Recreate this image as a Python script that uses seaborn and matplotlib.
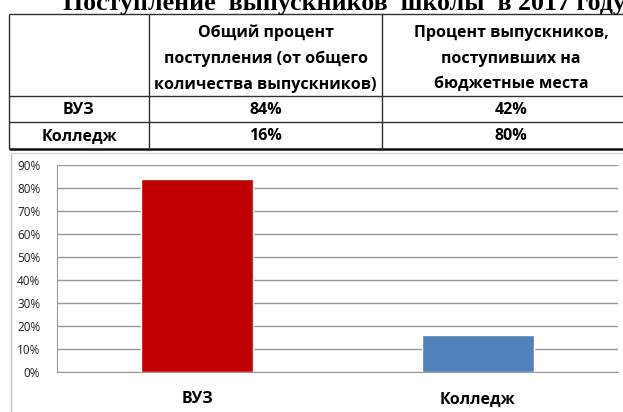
import matplotlib
matplotlib.use('Agg')
import matplotlib.pyplot as plt
import seaborn as sns
import pandas as pd
from matplotlib.ticker import PercentFormatter

# --- данные ---
title = 'Поступление  выпускников  школы  в 2017 году'
categories = ['ВУЗ', 'Колледж']
total_share = [0.84, 0.16]        # общий процент поступления
budget_share = [0.42, 0.80]       # процент поступивших на бюджет
col_headers = ['Общий процент\nпоступления (от общего\nколичества выпускников)',
               'Процент выпускников,\nпоступивших на\nбюджетные места']
y_ticks = [0, 0.1, 0.2, 0.3, 0.4, 0.5, 0.6, 0.7, 0.8, 0.9]
bar_colors = ['#C00000', '#4F81BD']

sns.set_style('white')
plt.rcParams['font.family'] = ['Open Sans', 'DejaVu Sans']

W, H = 623, 412
fig = plt.figure(figsize=(W / 100, H / 100), dpi=100)

# --- таблица (в пикселях) ---
bg = fig.add_axes([0, 0, 1, 1])
bg.set_xlim(0, W)
bg.set_ylim(H, 0)
bg.axis('off')

bg.text(63, 10, title, fontsize=18.6, fontweight='bold', family='Liberation Serif',
        ha='left', va='baseline', color='black')

col_x = [9, 149, 382, 640]
row_y = [14, 96, 122, 149]
line_c = '#303030'
bg.hlines(row_y[:3], col_x[0], W, color=line_c, lw=1)
bg.hlines(row_y[3], col_x[0], W, color='#101010', lw=1.8)
bg.vlines(col_x[:3], row_y[0], row_y[3], color=line_c, lw=1)

txt_c = '#000000'
for j, head in enumerate(col_headers):
    cx = (col_x[j + 1] + col_x[j + 2]) / 2
    bg.text(cx, 58.5, head, ha='center', va='center', fontsize=11.5,
            fontweight='bold', linespacing=1.8, color=txt_c)

for i, cat in enumerate(categories):
    cy = (row_y[i + 1] + row_y[i + 2]) / 2 + 1
    bg.text((col_x[0] + col_x[1]) / 2, cy, cat, ha='center', va='center',
            fontsize=11.5, fontweight='bold', color=txt_c)
    for j, vals in enumerate([total_share, budget_share]):
        cx = (col_x[j + 1] + col_x[j + 2]) / 2
        bg.text(cx, cy, f'{vals[i]:.0%}', ha='center', va='center',
                fontsize=11.5, fontweight='bold', color=txt_c)

# рамка области диаграммы
bg.vlines(11, 153, H, color='#bfbfbf', lw=1)
bg.hlines(153, 11, W, color='#d9d9d9', lw=1)

# --- диаграмма ---
ax = fig.add_axes([57 / W, (H - 372) / H, (618 - 57) / W, (372 - 165) / H])
df = pd.DataFrame({'cat': categories, 'val': total_share})
sns.barplot(data=df, x='cat', y='val', hue='cat', palette=bar_colors,
            saturation=1, width=0.4, legend=False, ax=ax, zorder=3)
ax.set_ylim(0, 0.9)
ax.set_xlim(-0.5, 1.5)
ax.set_yticks(y_ticks)
ax.yaxis.set_major_formatter(PercentFormatter(1.0, decimals=0))
ax.grid(axis='y', color='#999999', lw=1, zorder=0)
ax.set_axisbelow(True)
ax.set_xlabel('')
ax.set_ylabel('')
for s in ['top', 'right']:
    ax.spines[s].set_visible(False)
for s in ['left', 'bottom']:
    ax.spines[s].set_color('#999999')
ax.tick_params(axis='y', length=5, color='#999999', labelsize=8.5,
               labelcolor='#222222', pad=7)
ax.set_xticks([-0.5, 0.5, 1.5], minor=True)
ax.tick_params(axis='x', which='minor', length=5, color='#999999')
ax.tick_params(axis='x', which='major', length=0, pad=14, labelsize=11.5,
               labelcolor=txt_c)
for lab in ax.get_xticklabels():
    lab.set_fontweight('bold')

fig.savefig('out.png', dpi=100)
